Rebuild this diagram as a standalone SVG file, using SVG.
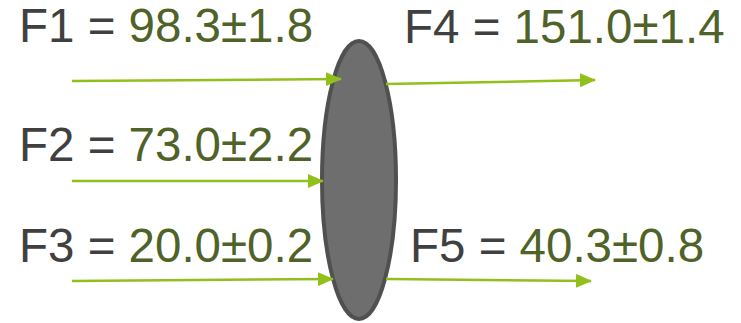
<svg xmlns="http://www.w3.org/2000/svg" width="741" height="323" viewBox="0 0 741 323">
<style>
.lbl{font-family:"Liberation Sans",Arial,sans-serif;font-size:47.5px;fill:#404040}
.val{fill:#4f6228}
.flow{stroke:#92c01a;stroke-width:2.5;fill:none;marker-end:url(#ah)}
</style>
<defs>
<marker id="ah" markerWidth="16" markerHeight="14" refX="15" refY="7" orient="auto" markerUnits="userSpaceOnUse">
<path d="M0,0 L16,7 L0,14 Z" fill="#92c01a"/>
</marker>
</defs>
<g id="lens">
<ellipse cx="359" cy="180" rx="37" ry="139" fill="#6e6e6e" stroke="#505050" stroke-width="4"/>
</g>
<g id="connectors">
<path class="flow" d="M72,81 L341,79"/>
<path class="flow" d="M72,181 L323,181"/>
<path class="flow" d="M72,281 L333,279"/>
<path class="flow" d="M386,84 L595,80"/>
<path class="flow" d="M386,279 L591,281"/>
</g>
<g id="F1"><text class="lbl" x="19" y="42">F1 = <tspan class="val">98.3±1.8</tspan></text></g>
<g id="F2"><text class="lbl" x="19" y="161">F2 = <tspan class="val">73.0±2.2</tspan></text></g>
<g id="F3"><text class="lbl" x="19" y="262">F3 = <tspan class="val">20.0±0.2</tspan></text></g>
<g id="F4"><text class="lbl" x="404" y="43">F4 = <tspan class="val">151.0±1.4</tspan></text></g>
<g id="F5"><text class="lbl" x="410" y="262">F5 = <tspan class="val">40.3±0.8</tspan></text></g>
</svg>
